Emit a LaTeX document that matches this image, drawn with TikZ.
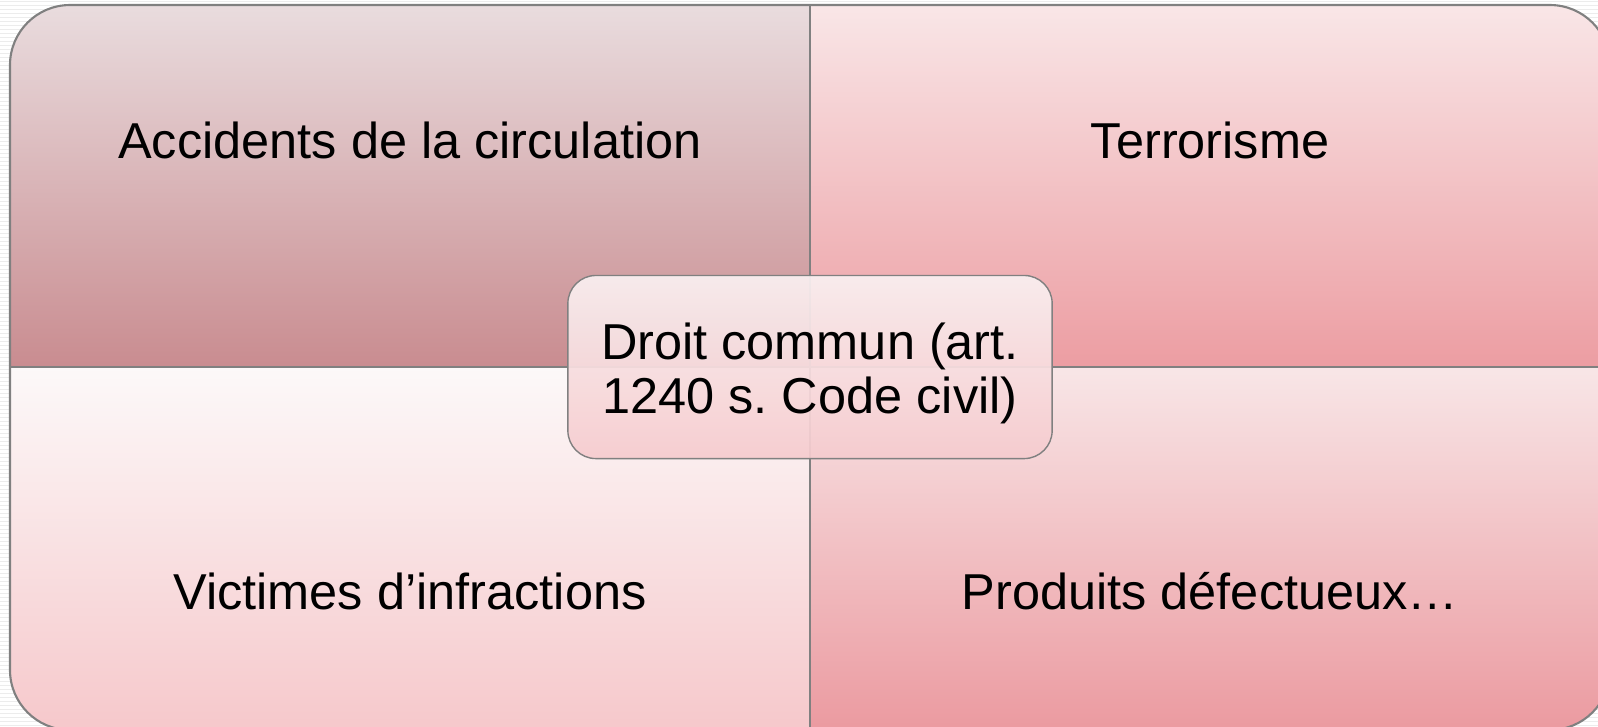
\documentclass[tikz,border=0pt]{standalone}
\usepackage{fontspec}
\setmainfont{Liberation Sans}
\usepackage{tikz}

\definecolor{rimgray}{HTML}{808080}
\definecolor{stripegray}{HTML}{ECECEC}
\definecolor{boxtop}{HTML}{F9F0F1}
\definecolor{boxbottom}{HTML}{F6CBCE}

\begin{document}
\begin{tikzpicture}[x=0.01cm, y=-0.01cm,
  every node/.style = {align=center, font=\fontsize{14.35}{15.4}\selectfont},
  rim/.style = {draw=rimgray, line width=0.6pt},
  divider/.style = {draw=rimgray, line width=0.4pt},
  centerbox/.style = {shape=rectangle, draw=rimgray, line width=0.4pt,
    rounded corners=0.28cm, minimum width=4.84cm, minimum height=1.83cm,
    top color=boxtop, bottom color=boxbottom, fill opacity=0.93}]
  \useasboundingbox (0,0) rectangle (1598,726);
  % striped backdrop
  \fill[white] (0,0) rectangle (1598,726);
  \foreach \y in {1,5,...,725}
    \draw[stripegray, line width=0.28pt] (0,\y) -- (1598,\y);

  % the four quarters, each rounded on its outer corner
  \shade[top color={rgb,255:red,233;green,220;blue,222}, bottom color={rgb,255:red,201;green,140;blue,144}]
    (10,367) [rounded corners=0.6cm] -- (10,5) [sharp corners] -- (810,5) -- (810,367) -- cycle;
  \shade[top color={rgb,255:red,249;green,230;blue,231}, bottom color={rgb,255:red,236;green,157;blue,162}]
    (810,5) [rounded corners=0.6cm] -- (1610,5) [sharp corners] -- (1610,367) -- (810,367) -- cycle;
  \shade[top color={rgb,255:red,252;green,249;blue,249}, bottom color={rgb,255:red,246;green,200;blue,203}]
    (810,730) [rounded corners=0.6cm] -- (10,730) [sharp corners] -- (10,367) -- (810,367) -- cycle;
  \shade[top color={rgb,255:red,248;green,230;blue,231}, bottom color={rgb,255:red,235;green,154;blue,160}]
    (810,367) -- (1610,367) [rounded corners=0.6cm] -- (1610,730) [sharp corners] -- (810,730) -- cycle;

  \draw[rim, rounded corners=0.6cm] (10,5) rectangle (1610,730);
  \draw[divider] (810,5) -- (810,730);
  \draw[divider] (10,367) -- (1610,367);

  \node (accidents) at (410,140) {Accidents de la circulation};
  \node (terrorisme) at (1210,140) {Terrorisme};
  \node (victimes) at (410,591) {Victimes d’infractions};
  \node (produits) at (1210,591) {Produits défectueux…};

  % the common-law box over the crossing
  \node[centerbox] (droit) at (810,367) {};
  \node (droittext) at (810,373) {Droit commun (art.\\1240 s.\ Code civil)};
\end{tikzpicture}
\end{document}
